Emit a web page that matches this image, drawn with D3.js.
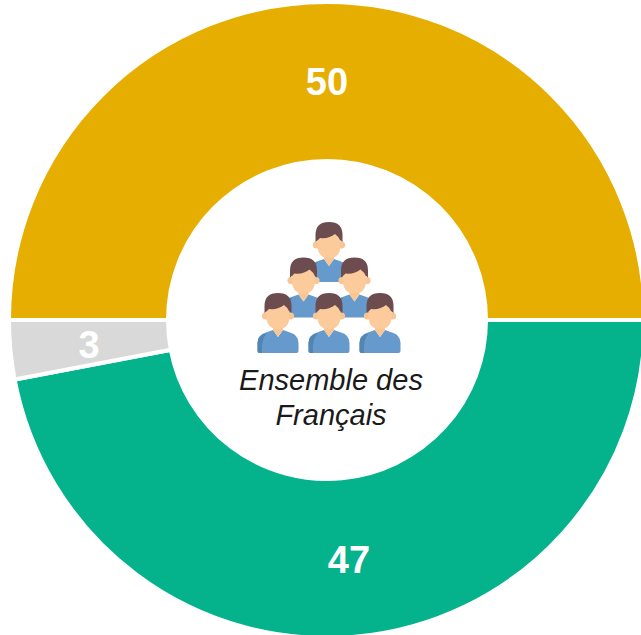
<!DOCTYPE html>
<html><head><meta charset="utf-8">
<script src="https://cdnjs.cloudflare.com/ajax/libs/d3/7.8.5/d3.min.js"></script>
<style>html,body{margin:0;padding:0;background:#fff}svg{display:block}</style>
</head><body>
<svg id="c" width="641" height="635"></svg>
<script>
const categories = ["A", "Autre", "B"];
const values = [50, 3, 47];
const colors = ["#E5AE00", "#D9D9D9", "#04B28C"];
const centerLines = ["Ensemble des", "Français"];
const rows = [[0], [-1, 1], [-2, 0, 2]];

const svg = d3.select("#c");
const cx = 327, cy = 320, rOuter = 318, rInner = 159;
const g = svg.append("g").attr("transform", `translate(${cx},${cy})`);

const pie = d3.pie().sort(null).value(d => d.v)
  .startAngle(-Math.PI / 2).endAngle(3 * Math.PI / 2);
const order = [0, 2, 1].map(i => ({v: values[i], c: colors[i], name: categories[i]}));
const arcs = pie(order);
const arc = d3.arc().innerRadius(rInner).outerRadius(rOuter);

g.selectAll("path.s").data(arcs).join("path").attr("class", "s")
  .attr("d", arc).attr("fill", d => d.data.c)
  .attr("stroke", "#fff").attr("stroke-width", 4).attr("stroke-linejoin", "miter");

const labelPos = {50: [0, -225], 47: [22, 253], 3: [-238, 38]};
g.selectAll("text.v").data(arcs).join("text").attr("class", "v")
  .attr("x", d => labelPos[d.data.v][0]).attr("y", d => labelPos[d.data.v][1])
  .attr("text-anchor", "middle")
  .attr("font-family", "Liberation Sans").attr("font-weight", "bold").attr("font-size", 38)
  .attr("fill", "#fff").text(d => d.data.v);

const t = svg.append("g").attr("font-family", "Liberation Sans").attr("font-style", "italic")
  .attr("font-size", 29).attr("fill", "#1a1a1a").attr("text-anchor", "middle");
centerLines.forEach((s, i) => t.append("text").attr("x", 331).attr("y", 390 + i * 35).text(s));

// People icon
function person(x, y) {
  const p = svg.append("g").attr("transform", `translate(${x},${y})`);
  p.append("path").attr("d", "M-20.5,58 Q-20.5,60 -18.5,60 L18.5,60 Q20.5,60 20.5,58 L20.5,50 Q20.5,42 12,39.5 L5,37 L0,44 L-5,37 L-12,39.5 Q-20.5,42 -20.5,50 Z").attr("fill", "#6699CC");
  p.append("path").attr("d", "M-20.5,58 Q-20.5,60 -18.5,60 L-16,60 Q-17,46 -11,40 Q-20.5,42 -20.5,50 Z").attr("fill", "#5285B0");
  p.append("path").attr("d", "M-5,30 L5,30 L5,37 L0,44 L-5,37 Z").attr("fill", "#F9C592");
  p.append("circle").attr("cx", -12.5).attr("cy", 23).attr("r", 3.6).attr("fill", "#F9C592");
  p.append("circle").attr("cx", 12.5).attr("cy", 23).attr("r", 3.6).attr("fill", "#F9C592");
  p.append("path").attr("d", "M-11.5,12 L11.5,12 L11.5,23 Q11.5,36 0,36 Q-11.5,36 -11.5,23 Z").attr("fill", "#FBCB9B");
  p.append("path").attr("d", "M-13.5,20 L-13.5,13 Q-13.5,0 0,0 Q13.5,0 13.5,13 L13.5,20 L11,18 Q10,15 6,12 Q0,17 -9,16 L-11,18 Z").attr("fill", "#6D4C50");
}
const iconX = 329, spacing = 25.5, rowY = [222, 257.5, 293];
rows.forEach((r, ri) => r.forEach(k => person(iconX + k * spacing, rowY[ri])));
</script>
</body></html>
